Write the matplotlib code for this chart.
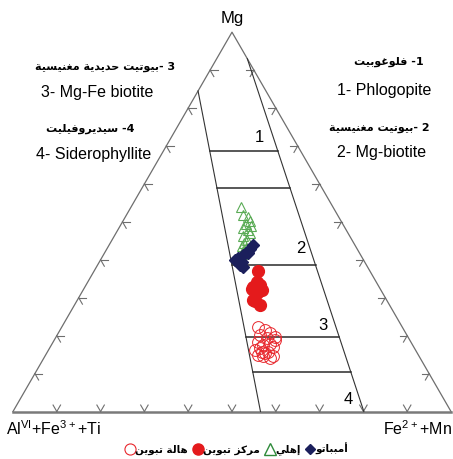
import numpy as np
import matplotlib
matplotlib.use("Agg")
import matplotlib.pyplot as plt
from matplotlib.lines import Line2D

plt.rcParams['font.family'] = ['Liberation Sans', 'DejaVu Sans']
plt.rcParams['mathtext.fontset'] = 'custom'
plt.rcParams['mathtext.rm'] = 'Liberation Sans'

# ternary data in percent (Mg, Fe2+ + Mn); Al + Fe3+ + Ti is the rest
imhlil_mg = [53.9, 51.8, 51.3, 50.2, 49.4, 48.9, 48.4, 47.9, 47.1, 46.3, 45.2, 44.4, 43.6, 43.1, 42.3, 41.5]
imhlil_fe = [25.2, 26.6, 28.0, 29.0, 28.5, 29.9, 28.3, 29.7, 30.6, 29.4, 30.8, 30.5, 30.5, 31.7, 31.4, 31.5]

ambatu_mg = [43.9, 42.8, 41.8, 41.3, 40.5, 39.9, 39.4, 38.6, 38.1, 42.3]
ambatu_fe = [32.9, 32.7, 32.8, 31.9, 31.1, 30.7, 32.6, 32.5, 33.5, 32.5]

core_mg = [37.1, 34.2, 32.9, 33.4, 32.2, 31.9, 31.2, 29.4, 28.1, 29.0]
core_fe = [37.5, 38.5, 38.4, 39.7, 38.4, 40.9, 40.1, 40.2, 42.4, 40.8]

rim_mg = [22.2, 21.5, 20.8, 19.7, 20.2, 19.3, 18.4, 17.5, 17.8, 17.1,
          16.2, 15.8, 15.8, 14.6, 14.9, 15.3, 14.5, 14.0, 16.7, 18.9]
rim_fe = [44.9, 46.8, 48.3, 50.0, 46.3, 48.3, 46.8, 48.4, 49.8, 50.9,
          47.2, 48.9, 50.4, 52.1, 48.6, 49.9, 49.9, 51.7, 48.1, 50.4]

# field boundaries (percent)
left_line = [(84.5, 0.0), (0.0, 56.5)]     # (Mg, Fe) end points
right_line = [(93.0, 7.0), (0.0, 80.1)]
divide_mg = [68.6, 58.8, 38.5, 19.6, 10.4]

field_numbers = ["1", "2", "3", "4"]
field_names_en = ["1- Phlogopite", "2- Mg-biotite", "3- Mg-Fe biotite", "4- Siderophyllite"]
field_names_ar = ["1- فلوغوبيت", "2 -بيوتيت مغنيسية", "3 -بيوتيت حديدية مغنيسية", "4- سيديروفيليت"]
legend_labels = ["هالة تبوين", "مركز تبوين", "إهلي", "أمبباتو"]

# Arabic presentation forms: isolated, final, initial, medial
AR_FORMS = {
    'ا': ('\ufe8d', '\ufe8e', None, None),
    'أ': ('\ufe83', '\ufe84', None, None),
    'إ': ('\ufe87', '\ufe88', None, None),
    'ب': ('\ufe8f', '\ufe90', '\ufe91', '\ufe92'),
    'ة': ('\ufe93', '\ufe94', None, None),
    'ت': ('\ufe95', '\ufe96', '\ufe97', '\ufe98'),
    'ح': ('\ufea1', '\ufea2', '\ufea3', '\ufea4'),
    'د': ('\ufea9', '\ufeaa', None, None),
    'ر': ('\ufead', '\ufeae', None, None),
    'ز': ('\ufeaf', '\ufeb0', None, None),
    'س': ('\ufeb1', '\ufeb2', '\ufeb3', '\ufeb4'),
    'غ': ('\ufecd', '\ufece', '\ufecf', '\ufed0'),
    'ف': ('\ufed1', '\ufed2', '\ufed3', '\ufed4'),
    'ك': ('\ufed9', '\ufeda', '\ufedb', '\ufedc'),
    'ل': ('\ufedd', '\ufede', '\ufedf', '\ufee0'),
    'م': ('\ufee1', '\ufee2', '\ufee3', '\ufee4'),
    'ن': ('\ufee5', '\ufee6', '\ufee7', '\ufee8'),
    'ه': ('\ufee9', '\ufeea', '\ufeeb', '\ufeec'),
    'و': ('\ufeed', '\ufeee', None, None),
    'ي': ('\ufef1', '\ufef2', '\ufef3', '\ufef4'),
}


def ar(text):
    """Shape Arabic letters and put them in visual (left to right) order."""
    out = []
    for i, ch in enumerate(text):
        if ch not in AR_FORMS:
            out.append(ch)
            continue
        forms = AR_FORMS[ch]
        prev = text[i - 1] if i > 0 else ''
        nxt = text[i + 1] if i + 1 < len(text) else ''
        join_prev = prev in AR_FORMS and AR_FORMS[prev][2] is not None
        join_next = forms[2] is not None and nxt in AR_FORMS
        if join_prev and join_next:
            out.append(forms[3])
        elif join_prev:
            out.append(forms[1])
        elif join_next:
            out.append(forms[2])
        else:
            out.append(forms[0])
    return ''.join(out)[::-1]


def tern(mg, fe):
    mg = np.asarray(mg, dtype=float) / 100.0
    fe = np.asarray(fe, dtype=float) / 100.0
    return fe + mg / 2.0, mg * np.sqrt(3) / 2.0


W, H = 453, 459
fig = plt.figure(figsize=(W / 100, H / 100), dpi=100)
ax = fig.add_axes([0, 0, 1, 1])
ax.set_xlim(-13 / 438, 440 / 438)
ax.set_ylim(-(H - 411.5) / 438, 411.5 / 438)
ax.axis('off')

s3 = np.sqrt(3) / 2
# triangle
ax.plot([0, 0.5, 1], [0, s3, 0], color='#6e6e6e', lw=0.9)
ax.plot([0, 1], [0, 0], color='#7a7a7a', lw=1.8)

# ticks drawn as small chevrons
L = 0.017
for k in range(1, 10):
    f = k / 10
    for (px, py), arms in [((f, 0), [(0.5, s3), (-0.5, s3)]),
                           ((f / 2, f * s3), [(1, 0), (0.5, -s3)]),
                           ((1 - f / 2, f * s3), [(-1, 0), (-0.5, -s3)])]:
        for dx, dy in arms:
            ax.plot([px, px + L * dx], [py, py + L * dy], color='#6e6e6e', lw=0.8)

# field boundaries
for line in (left_line, right_line):
    x, y = tern([p[0] for p in line], [p[1] for p in line])
    ax.plot(x, y, color='#333333', lw=0.8)


def x_on(line, mg):
    (m0, f0), (m1, f1) = line
    t = (m0 - mg) / (m0 - m1)
    fe = f0 + t * (f1 - f0)
    return tern(mg, fe)[0]


for mg in divide_mg:
    xs = [x_on(left_line, mg), x_on(right_line, mg)]
    ys = tern([mg, mg], [0, 0])[1]
    ax.plot(xs, ys, color='#2a2a2a', lw=1.1)

# data
x, y = tern(imhlil_mg, imhlil_fe)
ax.plot(x, y, '^', mfc='none', mec='#5aab55', ms=7.5, mew=0.8, ls='none')
x, y = tern(ambatu_mg, ambatu_fe)
ax.plot(x, y, 'D', color='#1b1f5c', ms=6, ls='none')
x, y = tern(core_mg, core_fe)
ax.plot(x, y, 'o', color='#e41a1c', ms=8.5, ls='none')
x, y = tern(rim_mg, rim_fe)
ax.plot(x, y, 'o', mfc='none', mec='#e8262c', ms=8.5, mew=0.7, ls='none')


def ftext(px, py, s, ha='center', **kw):
    fig.text(px / W, 1 - py / H, s, ha=ha, va='center', **kw)


# field numbers
for (px, py), s in zip([(259, 137), (301, 248), (323, 325), (348, 400)], field_numbers):
    ftext(px, py, s, fontsize=12)

# names
en_pos = [(384, 90), (382, 153), (97, 93), (94, 154)]
ar_pos = [(389, 62), (379, 128), (105, 67), (90, 129)]
for (px, py), s in zip(en_pos, field_names_en):
    ftext(px, py, s, fontsize=11.5)
for (px, py), s in zip(ar_pos, field_names_ar):
    ftext(px, py, ar(s), fontsize=8, family=['DejaVu Sans'], weight='bold')

# apices
ftext(232, 18, "Mg", fontsize=12)
ftext(6, 429, r"Al$^{\mathregular{VI}}$+Fe$^{\mathregular{3+}}$+Ti", ha='left', fontsize=11.5)
ftext(452, 429, r"Fe$^{\mathregular{2+}}$+Mn", ha='right', fontsize=11.5)

# legend (markers to the left of each Arabic label)
handles = [
    Line2D([], [], marker='o', mfc='none', mec='#e8262c', ms=8, mew=0.8, ls='none'),
    Line2D([], [], marker='o', color='#e41a1c', ms=8, ls='none'),
    Line2D([], [], marker='^', mfc='none', mec='#2e8b3a', ms=8, mew=1.0, ls='none'),
    Line2D([], [], marker='D', color='#1b1f5c', ms=5, ls='none'),
]
fig.legend(handles, [ar(s) for s in legend_labels], loc='center',
           bbox_to_anchor=(237 / W, 1 - 449 / H), ncol=4, frameon=False,
           handletextpad=0.05, columnspacing=0.5, handlelength=0.9,
           prop={'family': 'DejaVu Sans', 'weight': 'bold', 'size': 7.5})

fig.savefig("out.png", dpi=100)
